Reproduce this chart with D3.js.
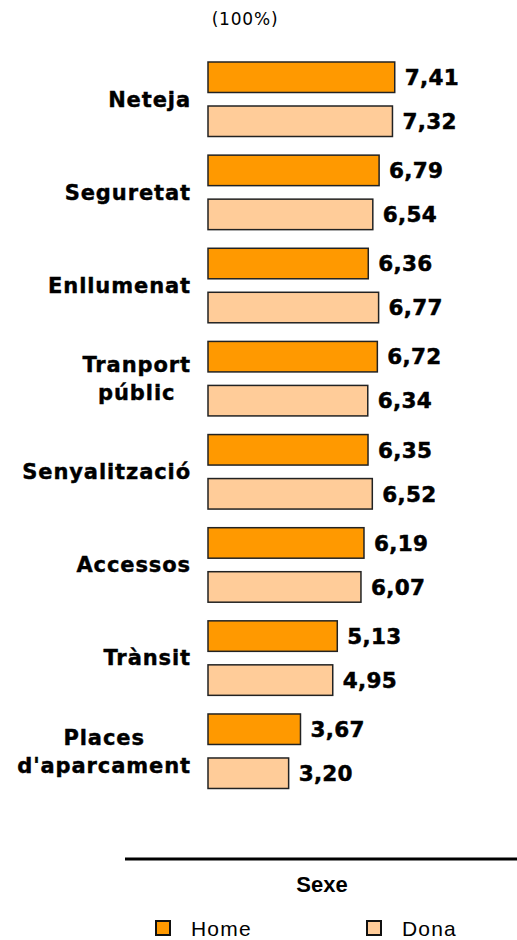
<!DOCTYPE html>
<html>
<head>
<meta charset="utf-8">
<script src="https://cdn.jsdelivr.net/npm/d3@7"></script>
<style>
  body { margin: 0; background: #fff; }
</style>
</head>
<body>
<div id="chart"></div>
<script>
// dades
const categories = ["Neteja", "Seguretat", "Enllumenat", "Tranport públic", "Senyalització", "Accessos", "Trànsit", "Places d'aparcament"];
const labelLines = [["Neteja"], ["Seguretat"], ["Enllumenat"], ["Tranport", "públic"], ["Senyalització"], ["Accessos"], ["Trànsit"], ["Places", "d'aparcament"]];
const home = [7.41, 6.79, 6.36, 6.72, 6.35, 6.19, 5.13, 3.67];
const dona = [7.32, 6.54, 6.77, 6.34, 6.52, 6.07, 4.95, 3.20];
const seriesNames = ["Home", "Dona"];
const colors = ["#ff9900", "#ffcc99"];

const width = 517, height = 940;
const svg = d3.select("#chart").append("svg")
    .attr("width", width)
    .attr("height", height);

const x0 = 208;
const x = d3.scaleLinear().domain([0, 10]).range([x0, x0 + 252]);

const y = d3.scaleBand()
    .domain(categories)
    .range([62, 62 + 93.14 * 8])
    .paddingInner(0);

const sub = d3.scaleBand().domain(seriesNames).range([0, 74.5]).paddingInner(0.307);

// títol eix
svg.append("text")
    .attr("x", 245).attr("y", 19)
    .attr("dy", "0.36em")
    .attr("text-anchor", "middle")
    .attr("font-family", "DejaVu Sans")
    .attr("font-size", 17)
    .attr("letter-spacing", 0.8)
    .text("(100%)");

const rows = categories.map((c, i) => ({ cat: c, lines: labelLines[i], vals: [home[i], dona[i]] }));

const g = svg.selectAll(".grp").data(rows).enter().append("g")
    .attr("class", "grp")
    .attr("transform", d => `translate(0,${y(d.cat)})`);

g.selectAll("rect").data(d => d.vals.map((v, k) => ({ v, k })))
    .enter().append("rect")
    .attr("x", x(0))
    .attr("y", d => sub(seriesNames[d.k]))
    .attr("width", d => x(d.v) - x(0))
    .attr("height", sub.bandwidth())
    .attr("fill", d => colors[d.k])
    .attr("stroke", "#222")
    .attr("stroke-width", 1.5);

g.selectAll(".val").data(d => d.vals.map((v, k) => ({ v, k })))
    .enter().append("text")
    .attr("class", "val")
    .attr("x", d => x(d.v) + 10)
    .attr("y", d => sub(seriesNames[d.k]) + sub.bandwidth() / 2)
    .attr("dy", "0.36em")
    .attr("font-family", "DejaVu Sans")
    .attr("font-weight", "bold")
    .attr("font-size", 21.5)
    .attr("letter-spacing", 0.3)
    .attr("stroke", "#000")
    .attr("stroke-width", 0.5)
    .text(d => d3.format(".2f")(d.v).replace(".", ","));

// etiquetes de categoria
g.each(function (d) {
    const sel = d3.select(this);
    const lh = 28;
    const n = d.lines.length;
    const texts = d.lines.map((l, j) => sel.append("text")
        .attr("y", 37 + (j - (n - 1) / 2) * lh)
        .attr("dy", "0.36em")
        .attr("font-family", "DejaVu Sans")
        .attr("font-weight", "bold")
        .attr("font-size", 21)
        .attr("letter-spacing", 0.9)
        .attr("stroke", "#000")
        .attr("stroke-width", 0.4)
        .text(l));
    const maxW = d3.max(texts, t => t.node().getComputedTextLength());
    const cx = 191 - maxW / 2;
    texts.forEach(t => t.attr("x", cx).attr("text-anchor", "middle"));
});

// llegenda
svg.append("line")
    .attr("x1", 125).attr("x2", 517)
    .attr("y1", 859).attr("y2", 859)
    .attr("stroke", "#000").attr("stroke-width", 3);

svg.append("text")
    .attr("x", 322).attr("y", 884)
    .attr("dy", "0.36em")
    .attr("text-anchor", "middle")
    .attr("font-family", "Liberation Sans")
    .attr("font-weight", "bold")
    .attr("font-size", 22)
    .text("Sexe");

const legX = [156, 367];
const leg = svg.selectAll(".leg").data(seriesNames).enter().append("g")
    .attr("class", "leg")
    .attr("transform", (d, i) => `translate(${legX[i]},921)`);
leg.append("rect")
    .attr("width", 14).attr("height", 14)
    .attr("fill", (d, i) => colors[i])
    .attr("stroke", "#111").attr("stroke-width", 2);
leg.append("text")
    .attr("x", 35).attr("y", 7)
    .attr("dy", "0.36em")
    .attr("font-family", "Liberation Sans")
    .attr("font-size", 21)
    .attr("letter-spacing", 1.2)
    .text(d => d);
</script>
</body>
</html>
